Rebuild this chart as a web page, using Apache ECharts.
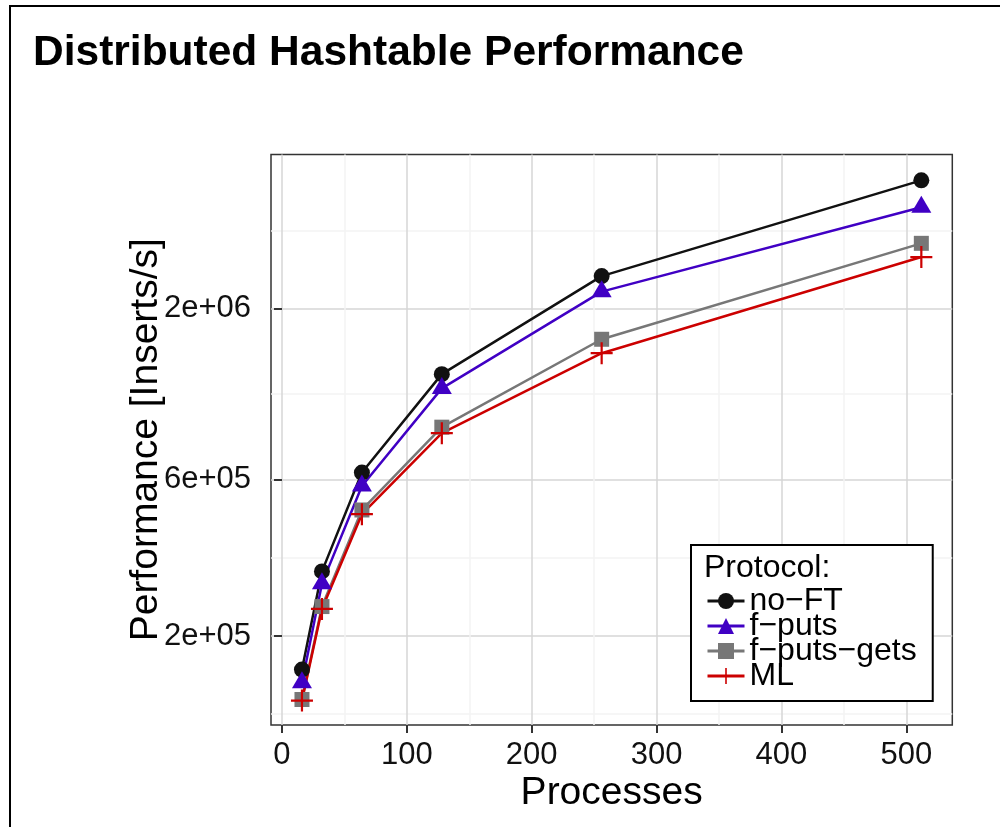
<!DOCTYPE html>
<html>
<head>
<meta charset="utf-8">
<title>Distributed Hashtable Performance</title>
<script src="https://cdn.jsdelivr.net/npm/echarts@6/dist/echarts.min.js"></script>
<style>
  html, body { margin: 0; padding: 0; background: #fff; }
  #chart { width: 1000px; height: 827px; }
</style>
</head>
<body>
<div id="chart"></div>
<script>
// Number of processes on the x axis
const processes = [16, 32, 64, 128, 256, 512];

// Insert throughput per protocol [inserts/s]
const noFT      = [1.58e5, 3.15e5, 6.31e5, 1.26e6, 2.51e6, 4.92e6];
const fPuts     = [1.44e5, 2.89e5, 5.74e5, 1.14e6, 2.25e6, 4.07e6];
const fPutsGets = [1.28e5, 2.46e5, 4.85e5, 8.68e5, 1.61e6, 3.16e6];
const ml        = [1.27e5, 2.42e5, 4.71e5, 8.32e5, 1.46e6, 2.87e6];

// Axis breaks and labels
const xTicks = [0, 100, 200, 300, 400, 500];
const xMinorTicks = [50, 150, 250, 350, 450];
const yTicks = [2e5, 6e5, 2e6];
const yTickLabels = ['2e+05', '6e+05', '2e+06'];
const yMinorTicks = [1.155e5, 3.464e5, 1.095e6, 3.464e6];

const protocolNames = ['no\u2212FT', 'f\u2212puts', 'f\u2212puts\u2212gets', 'ML'];

const FONT = '"Liberation Sans", Arial, Helvetica, sans-serif';
const PLUS = 'path://M9,0H11V20H9ZM0,9H20V11H0Z';

function pairs(ys) {
  return processes.map((x, i) => [x, ys[i]]);
}

function yLabel(v) {
  let best = 0;
  for (let i = 1; i < yTicks.length; i++) {
    if (Math.abs(Math.log(yTicks[i] / v)) < Math.abs(Math.log(yTicks[best] / v))) best = i;
  }
  return yTickLabels[best];
}

const chart = echarts.init(document.getElementById('chart'), null, { renderer: 'canvas' });

const hiddenAxisParts = {
  axisLine: { show: false },
  axisLabel: { show: false },
  axisTick: { show: false }
};

function makeSeries(name, ys, color, symbol, size, offset) {
  return {
    name: name,
    type: 'line',
    data: pairs(ys),
    xAxisIndex: 0,
    yAxisIndex: 0,
    symbol: symbol,
    symbolSize: size,
    symbolOffset: offset || [0, 0],
    showSymbol: true,
    showAllSymbol: true,
    lineStyle: { color: color, width: 2.5 },
    itemStyle: { color: color },
    emphasis: { disabled: true },
    animation: false
  };
}

chart.setOption({
  backgroundColor: '#ffffff',
  animation: false,
  textStyle: { fontFamily: FONT },
  title: [
    {
      text: 'Distributed Hashtable Performance',
      left: 33,
      top: 32,
      padding: 0,
      textStyle: { fontFamily: FONT, fontSize: 42.5, fontWeight: 'bold', color: '#000' }
    },
    {
      text: 'Protocol:',
      left: 704,
      top: 552,
      padding: 0,
      z: 10,
      textStyle: { fontFamily: FONT, fontSize: 32, fontWeight: 'normal', color: '#000' }
    }
  ],
  legend: {
    orient: 'vertical',
    left: 691,
    top: 545,
    padding: [40, 16, 9, 15],
    itemWidth: 37,
    itemHeight: 20,
    itemGap: -7,
    backgroundColor: '#fff',
    borderColor: '#000',
    borderWidth: 2,
    borderRadius: 0,
    selectedMode: false,
    data: protocolNames,
    lineStyle: { width: 3 },
    textStyle: { fontFamily: FONT, fontSize: 32, color: '#000' }
  },
  grid: {
    left: 271,
    top: 154.5,
    right: 47.7,
    bottom: 102,
    show: true,
    borderColor: '#333',
    borderWidth: 1.5,
    backgroundColor: '#fff',
    containLabel: false
  },
  xAxis: [
    {
      type: 'value',
      min: -8.8,
      max: 536.8,
      name: 'Processes',
      nameLocation: 'middle',
      nameGap: 49,
      nameMoveOverlap: false,
      nameTextStyle: { fontFamily: FONT, fontSize: 39, color: '#000' },
      axisLine: { show: false },
      axisTick: {
        show: true, inside: false, length: 8, customValues: xTicks,
        lineStyle: { color: '#333', width: 2 }
      },
      axisLabel: {
        show: true, margin: 15, customValues: xTicks,
        fontFamily: FONT, fontSize: 31, color: '#111'
      },
      splitLine: { show: true, lineStyle: { color: '#d6d6d6', width: 1.5 } }
    },
    Object.assign({
      type: 'value',
      min: -8.8,
      max: 536.8,
      position: 'bottom',
      splitLine: { show: true, lineStyle: { color: '#f3f3f3', width: 1.5 } }
    }, hiddenAxisParts, {
      axisTick: { show: false, customValues: xMinorTicks }
    })
  ],
  yAxis: [
    {
      type: 'log',
      logBase: 10,
      min: 1.07e5,
      max: 5.9e6,
      name: 'Performance [Inserts/s]',
      nameLocation: 'middle',
      nameRotate: 90,
      nameGap: 105,
      nameMoveOverlap: false,
      nameTextStyle: { fontFamily: FONT, fontSize: 39, color: '#000' },
      axisLine: { show: false },
      axisTick: {
        show: true, inside: false, length: 8, customValues: yTicks,
        lineStyle: { color: '#333', width: 2 }
      },
      axisLabel: {
        show: true, margin: 20, customValues: yTicks,
        fontFamily: FONT, fontSize: 31, color: '#111',
        formatter: yLabel
      },
      splitLine: { show: true, lineStyle: { color: '#d6d6d6', width: 1.5 } }
    },
    Object.assign({
      type: 'log',
      logBase: 10,
      min: 1.07e5,
      max: 5.9e6,
      position: 'left',
      splitLine: { show: true, lineStyle: { color: '#f3f3f3', width: 1.5 } }
    }, hiddenAxisParts, {
      axisTick: { show: false, customValues: yMinorTicks }
    })
  ],
  graphic: [
    {
      type: 'rect',
      silent: true,
      z: 100,
      shape: { x: 10, y: 6, width: 1000, height: 840 },
      style: { fill: 'none', stroke: '#000', lineWidth: 2 }
    }
  ],
  series: [
    makeSeries(protocolNames[0], noFT, '#111111', 'circle', 16),
    makeSeries(protocolNames[1], fPuts, '#4000C4', 'triangle', [20, 17], [0, -3]),
    makeSeries(protocolNames[2], fPutsGets, '#777777', 'rect', 15),
    makeSeries(protocolNames[3], ml, '#CC0000', PLUS, 22)
  ]
});
</script>
</body>
</html>
